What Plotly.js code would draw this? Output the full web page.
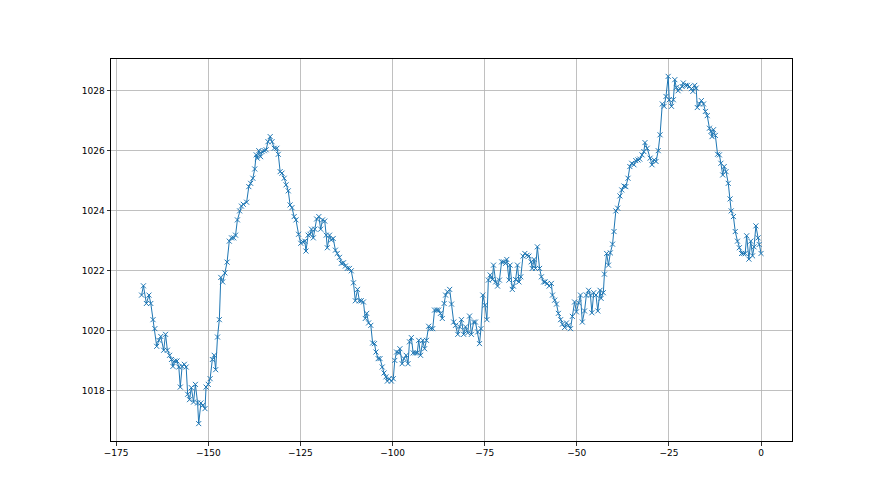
<!DOCTYPE html>
<html>
<head>
<meta charset="utf-8">
<script src="https://cdn.plot.ly/plotly-3.0.1.min.js"></script>
<style>html,body{margin:0;padding:0;background:#fff;}#chart{width:880px;height:495px;}</style>
</head>
<body>
<div id="chart"></div>
<script>
// Hours (relative to now) of each reading
const hours = [
  -168.1, -167.6, -166.8, -166.1, -165.6, -165.0, -164.5, -164.0, -163.4, -162.9,
  -162.1, -161.6, -161.1, -160.5, -160.0, -159.6, -159.1, -158.5, -158.0, -157.6,
  -157.1, -156.5, -156.0, -155.6, -155.1, -154.6, -154.0, -153.5, -152.9, -152.6,
  -152.0, -151.5, -150.9, -150.6, -150.0, -149.5, -148.9, -148.4, -148.0, -147.5,
  -147.0, -146.6, -146.1, -145.5,
  -144.9, -144.3, -143.7, -143.1,
  -142.6, -142.1, -141.5, -141.0, -140.5, -139.6, -139.0, -138.5, -137.9, -137.4,
  -137.0, -136.7, -136.3, -135.8, -135.4, -134.8, -134.3, -133.8, -133.2, -132.7,
  -132.1, -131.4, -131.0, -130.5, -130.0, -129.4, -128.9, -128.3, -127.8, -127.3,
  -126.7, -126.2, -125.5, -124.9, -124.4, -123.8, -123.5, -122.9, -122.4, -122.0,
  -121.5, -121.1, -120.6, -120.0, -119.5, -119.0, -118.4, -118.0, -117.7, -117.1,
  -116.6, -116.1,
  -115.5, -115.0, -114.4, -113.9, -113.3, -112.8, -112.3, -111.7, -111.2, -110.6,
  -110.1, -109.5, -109.0, -108.5, -107.9, -107.4, -107.0, -106.5, -105.9, -105.4,
  -104.9, -104.5, -103.9, -103.4, -102.8, -102.3, -101.8, -101.4, -100.9, -100.3,
  -99.8, -99.4, -98.9, -98.3, -98.0, -97.4, -96.9, -96.3, -95.8, -95.4,
  -94.9, -94.4, -93.8, -93.3, -92.9, -92.4, -91.8, -91.3, -90.8, -90.2,
  -89.7, -89.1, -88.6, -88.0, -87.5,
  -87.0, -86.5, -86.0, -85.6, -85.1, -84.5, -84.0, -83.4, -82.9, -82.3,
  -81.8, -81.3, -80.7, -80.2, -79.6, -79.1, -78.6, -78.0, -77.5, -76.9,
  -76.4, -76.0, -75.5, -74.9, -74.4, -74.0, -73.5, -72.9, -72.6, -72.0,
  -71.5, -71.0, -70.4, -69.9, -69.3, -69.0, -68.4, -68.1, -67.5, -67.2,
  -66.6, -66.1, -65.7, -65.2, -64.6, -64.1, -63.5, -63.0, -62.4, -62.1,
  -61.6, -61.2, -60.7, -60.1, -59.6, -59.0,
  -58.6, -58.0, -57.5, -56.9, -56.6, -56.0, -55.5, -55.0, -54.4, -53.9,
  -53.3, -52.8, -52.3, -51.7, -51.2, -50.6, -50.1, -49.5, -49.0, -48.5,
  -47.9, -47.4, -46.8, -46.3, -45.9, -45.4, -44.8, -44.3, -43.7, -43.4,
  -42.8, -42.5, -41.9, -41.4, -40.9, -40.3, -39.9, -39.4, -38.9, -38.3,
  -37.8, -37.2, -36.7, -36.1, -35.6, -35.1, -34.5, -34.0, -33.4, -32.9,
  -32.3, -31.8, -31.5, -30.9,
  -30.1, -29.6, -29.0, -28.5, -27.9, -27.4, -26.8, -26.3, -25.8, -25.2,
  -24.9, -24.3, -23.8, -23.4, -23.0, -22.5, -22.0, -21.4, -21.1, -20.5,
  -20.0, -19.4, -18.9, -18.5, -18.0, -17.6, -17.3, -16.7, -16.2, -15.6,
  -15.1, -14.6, -14.0, -13.6, -13.3, -12.9, -12.4, -11.8, -11.3, -10.9,
  -10.4, -10.0, -9.5, -8.9, -8.4, -8.1, -7.5, -7.0, -6.4, -5.9,
  -5.3, -4.8, -4.3, -3.9, -3.3, -2.8, -2.3, -1.9, -1.4, -0.8,
  -0.5, 0.0
];

// Pressure readings, one per hour value above
const pressure = [
  1021.18, 1021.49, 1020.90, 1021.18, 1020.90, 1020.36, 1020.06, 1019.47, 1019.67, 1019.80,
  1019.34, 1019.87, 1019.34, 1019.17, 1019.03, 1018.80, 1018.98, 1018.98, 1018.78, 1018.11,
  1018.80, 1018.87, 1018.78, 1017.87, 1017.69, 1018.09, 1017.61, 1018.20, 1017.58, 1016.89,
  1017.58, 1017.50, 1017.39, 1018.11, 1018.20, 1018.39, 1019.03, 1019.17, 1018.69, 1019.78,
  1020.36, 1021.77, 1021.62, 1021.92,
  1022.28, 1022.98, 1023.09, 1023.09,
  1023.18, 1023.69, 1023.99, 1024.15, 1024.21, 1024.28, 1024.80, 1024.91, 1025.08, 1025.39,
  1025.86, 1025.75, 1026.00, 1025.80, 1025.97, 1026.00, 1026.03, 1026.30, 1026.47, 1026.30,
  1026.08, 1026.08, 1025.88, 1025.30, 1025.25, 1025.08, 1024.86, 1024.66, 1024.19, 1024.10,
  1023.80, 1023.69, 1023.21, 1022.91, 1022.96, 1022.98, 1022.65, 1023.18, 1023.21, 1023.38,
  1023.09, 1023.38, 1023.72, 1023.80, 1023.38, 1023.69, 1023.65, 1023.18, 1022.76, 1023.18,
  1023.02, 1023.07,
  1022.68, 1022.57, 1022.44, 1022.24, 1022.26, 1022.15, 1022.07, 1022.07, 1021.99, 1021.59,
  1020.99, 1021.37, 1020.99, 1020.99, 1020.95, 1020.40, 1020.57, 1020.25, 1020.17, 1019.58,
  1019.56, 1019.28, 1019.06, 1019.06, 1018.78, 1018.58, 1018.45, 1018.31, 1018.39, 1018.31,
  1018.39, 1019.00, 1019.28, 1019.25, 1019.39, 1018.89, 1019.06, 1019.17, 1018.89, 1019.62,
  1019.76, 1019.25, 1019.25, 1019.25, 1019.67, 1019.17, 1019.67, 1019.39, 1019.67, 1020.14,
  1020.06, 1020.06, 1020.68, 1020.68, 1020.68,
  1020.57, 1020.40, 1020.90, 1021.18, 1021.29, 1021.37, 1020.88, 1020.28, 1020.17, 1019.87,
  1020.12, 1020.36, 1019.87, 1020.12, 1019.92, 1020.48, 1019.87, 1020.28, 1020.28, 1019.95,
  1019.56, 1020.06, 1021.18, 1020.84, 1020.36, 1021.68, 1021.85, 1021.70, 1022.18, 1021.62,
  1021.48, 1021.68, 1022.29, 1022.29, 1022.24, 1022.37, 1021.68, 1022.18, 1021.37, 1021.48,
  1021.70, 1022.18, 1021.62, 1021.79, 1022.48, 1022.57, 1022.51, 1022.48, 1022.29, 1022.07,
  1022.37, 1022.07, 1022.79, 1022.07, 1021.79, 1021.62,
  1021.62, 1021.57, 1021.48, 1021.57, 1021.18, 1021.01, 1020.88, 1020.57, 1020.36, 1020.21,
  1020.10, 1020.25, 1020.17, 1020.06, 1020.47, 1020.95, 1020.62, 1020.92, 1021.18, 1020.28,
  1020.65, 1021.18, 1021.34, 1021.18, 1020.59, 1021.26, 1021.18, 1020.65, 1021.34, 1021.07,
  1021.26, 1021.88, 1022.57, 1022.18, 1022.59, 1022.88, 1023.30, 1023.99, 1024.08, 1024.49,
  1024.69, 1024.82, 1024.80, 1025.08, 1025.47, 1025.58, 1025.53, 1025.67, 1025.69, 1025.72,
  1025.86, 1025.97, 1026.27, 1026.08,
  1025.75, 1025.53, 1025.69, 1025.64, 1026.00, 1026.53, 1027.56, 1027.48, 1027.81, 1028.48,
  1027.70, 1027.48, 1027.70, 1028.37, 1028.11, 1028.00, 1028.07, 1028.14, 1028.26, 1028.18,
  1028.18, 1028.14, 1028.07, 1027.98, 1028.18, 1028.09, 1027.44, 1027.56, 1027.67, 1027.56,
  1027.31, 1027.17, 1026.75, 1026.64, 1026.47, 1026.70, 1026.51, 1025.88, 1025.86, 1025.58,
  1025.19, 1025.47, 1025.30, 1024.91, 1024.39, 1023.99, 1023.80, 1023.30, 1022.98, 1022.76,
  1022.57, 1022.57, 1022.57, 1023.16, 1022.38, 1022.98, 1022.49, 1022.79, 1023.49, 1023.09,
  1022.87, 1022.57
];

// Axis tick values
const xTicks = [-175, -150, -125, -100, -75, -50, -25, 0];
const yTicks = [1018, 1020, 1022, 1024, 1026, 1028];

const trace = {
  x: hours,
  y: pressure,
  type: 'scatter',
  mode: 'lines+markers',
  line: {color: '#1f77b4', width: 1},
  marker: {symbol: 'x-thin', size: 5, color: '#1f77b4', line: {color: '#1f77b4', width: 1}},
  hoverinfo: 'x+y'
};

const axisCommon = {
  showline: true,
  mirror: true,
  linecolor: '#000',
  linewidth: 1,
  ticks: 'outside',
  ticklen: 3.5,
  tickwidth: 0.8,
  tickcolor: '#000',
  showgrid: true,
  gridcolor: '#b0b0b0',
  gridwidth: 0.8,
  zeroline: false,
  tickfont: {family: 'DejaVu Sans', size: 9, color: '#000'}
};

const layout = {
  width: 880,
  height: 495,
  margin: {l: 111, r: 88, t: 59, b: 54},
  paper_bgcolor: '#fff',
  plot_bgcolor: '#fff',
  showlegend: false,
  xaxis: Object.assign({}, axisCommon, {
    range: [-176.4, 8.4],
    tickmode: 'array',
    tickvals: xTicks,
    ticktext: xTicks.map(v => String(v).replace('-', '\u2212'))
  }),
  yaxis: Object.assign({}, axisCommon, {
    range: [1016.31, 1029.06],
    tickmode: 'array',
    tickvals: yTicks,
    ticktext: yTicks.map(String)
  })
};

Plotly.newPlot('chart', [trace], layout, {displayModeBar: false, staticPlot: true});
</script>
</body>
</html>
